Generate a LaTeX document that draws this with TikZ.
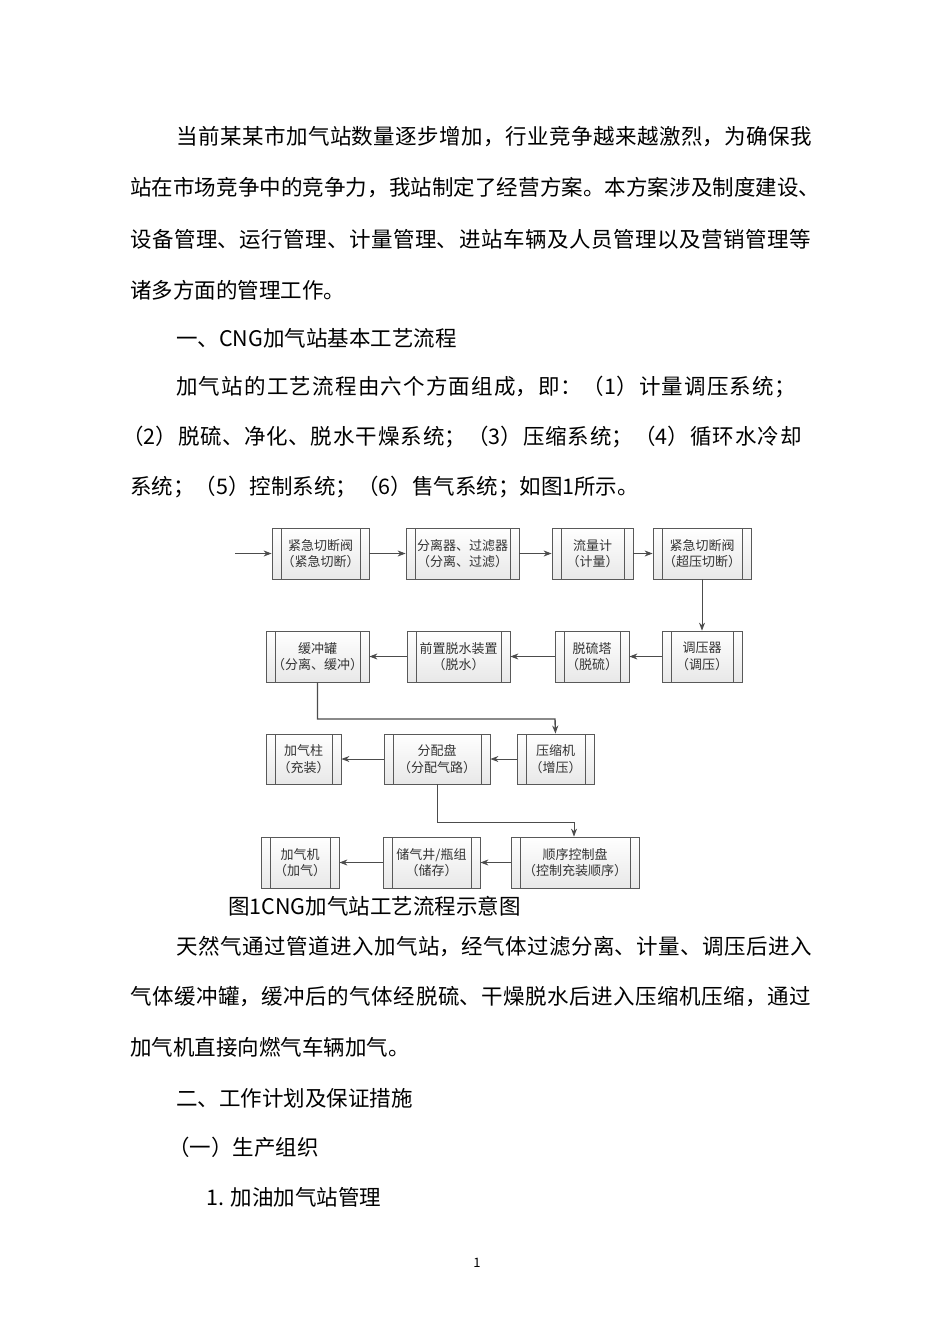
\documentclass[tikz,border=0pt]{standalone}
\usepackage{fontspec}
\setmainfont{Noto Sans CJK SC}
\XeTeXlinebreaklocale "zh"
\XeTeXlinebreakskip=0pt plus 2pt
\usetikzlibrary{arrows.meta}
\newcommand{\jline}[1]{{\parfillskip=0pt\relax #1\par}}
\begin{document}
\begin{tikzpicture}[x=1pt,y=-1pt,
 body/.style={anchor=west,inner sep=0pt,font=\fontsize{21.5}{24}\selectfont},
 bx/.style={draw=gray!70!black,line width=0.8pt,top color=white,bottom color=gray!18,align=center,inner sep=0pt,
   font=\fontsize{13}{16.5}\selectfont,text=black!80,
   path picture={\draw[gray!70!black,line width=0.8pt] ([xshift=9pt]path picture bounding box.north west) -- ([xshift=9pt]path picture bounding box.south west)
     ([xshift=-9pt]path picture bounding box.north east) -- ([xshift=-9pt]path picture bounding box.south east);}},
 ar/.style={draw=black!70,line width=0.9pt,-{Stealth[length=8pt,width=6pt]}}]
\useasboundingbox[fill=white] (0,0) rectangle (950,1344);
\node[body,text width=646pt] (t1) at (176,137) {\jline{当前某某市加气站数量逐步增加，行业竞争越来越激烈，为确保我}};
\node[body,text width=692pt] (t2) at (130,188) {\jline{站在市场竞争中的竞争力，我站制定了经营方案。本方案涉及制度建设、}};
\node[body,text width=692pt] (t3) at (130,239) {\jline{设备管理、运行管理、计量管理、进站车辆及人员管理以及营销管理等}};
\node[body] (t4) at (130,290) {诸多方面的管理工作。};
\node[body] (t5) at (176,338) {一、CNG加气站基本工艺流程};
\node[body,text width=646pt] (t6) at (176,387) {\jline{加气站的工艺流程由六个方面组成，即：（1）计量调压系统；}};
\node[body,text width=700pt] (t7) at (122,437) {\jline{（2）脱硫、净化、脱水干燥系统；（3）压缩系统；（4）循环水冷却}};
\node[body] (t8) at (130,487) {系统；（5）控制系统；（6）售气系统；如图1所示。};
\node[body] (cap) at (228,906) {图1CNG加气站工艺流程示意图};
\node[body,text width=646pt] (t9) at (176,947) {\jline{天然气通过管道进入加气站，经气体过滤分离、计量、调压后进入}};
\node[body,text width=692pt] (t10) at (130,997) {\jline{气体缓冲罐，缓冲后的气体经脱硫、干燥脱水后进入压缩机压缩，通过}};
\node[body] (t11) at (130,1047) {加气机直接向燃气车辆加气。};
\node[body] (t12) at (176,1098) {二、工作计划及保证措施};
\node[body] (t13) at (168,1147) {（一）生产组织};
\node[body] (t14) at (206,1197) {1. 加油加气站管理};
\node[inner sep=0pt,font=\fontsize{13}{15}\selectfont] (pg) at (477,1263) {1};
% row 1
\node[bx,minimum width=97,minimum height=51] (b1) at (320.5,553.5) {紧急切断阀\\（紧急切断）};
\node[bx,minimum width=113,minimum height=51] (b2) at (462.5,553.5) {分离器、过滤器\\（分离、过滤）};
\node[bx,minimum width=81,minimum height=51] (b3) at (592.5,553.5) {流量计\\（计量）};
\node[bx,minimum width=98,minimum height=51] (b4) at (702,553.5) {紧急切断阀\\（超压切断）};
\coordinate (in) at (235,553.5);
% row 2
\node[bx,minimum width=103,minimum height=51] (b5) at (317.5,656.5) {缓冲罐\\（分离、缓冲）};
\node[bx,minimum width=103,minimum height=51] (b6) at (458.5,656.5) {前置脱水装置\\（脱水）};
\node[bx,minimum width=74,minimum height=51] (b7) at (592,656.5) {脱硫塔\\（脱硫）};
\node[bx,minimum width=80,minimum height=51] (b8) at (702,656.5) {调压器\\（调压）};
% row 3
\node[bx,minimum width=75,minimum height=50] (b10) at (303.5,759) {加气柱\\（充装）};
\node[bx,minimum width=106,minimum height=50] (b11) at (437,759) {分配盘\\（分配气路）};
\node[bx,minimum width=77,minimum height=50] (b9) at (555.5,759) {压缩机\\（增压）};
% row 4
\node[bx,minimum width=78,minimum height=51] (b14) at (300,862.5) {加气机\\（加气）};
\node[bx,minimum width=97,minimum height=51] (b13) at (431.5,862.5) {储气井/瓶组\\（储存）};
\node[bx,minimum width=128,minimum height=51] (b12) at (575,862.5) {顺序控制盘\\（控制充装顺序）};
\draw[ar] (in) -- (b1);
\draw[ar] (b1) -- (b2);
\draw[ar] (b2) -- (b3);
\draw[ar] (b3) -- (b4);
\draw[ar] (b4) -- (b8);
\draw[ar] (b8) -- (b7);
\draw[ar] (b7) -- (b6);
\draw[ar] (b6) -- (b5);
\draw[ar,line width=1.4pt] (b5.south) |- (555,719) -- (b9.north);
\draw[ar] (b9) -- (b11);
\draw[ar] (b11) -- (b10);
\draw[ar] (b11.south) |- (574,822) -- (b12.north -| 574,0);
\draw[ar] (b12) -- (b13);
\draw[ar] (b13) -- (b14);
\end{tikzpicture}
\end{document}
